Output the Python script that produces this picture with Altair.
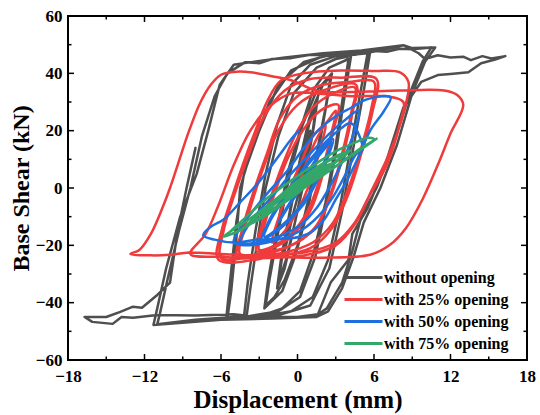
import altair as alt
import pandas as pd

series_names = ["without opening", "with 25% opening", "with 50% opening", "with 75% opening"]
series_colors = ["#4f4f4f", "#ef3b3b", "#1e6fdf", "#33a66a"]

gray_pts = [
    (0, 0), (0.5, 10), (1, 20), (0.7, 12), (0.2, 0), (-0.4, -10), (-1, -22), (-0.8, -14), (-0.3, -2), (0.3, 10),
    (0.9, 22), (1.5, 30), (1.2, 20), (0.6, 5), (-0.2, -12), (-0.9, -25), (-1.5, -33), (-1.2, -24), (-0.6, -8), (0.2, 10),
    (0.9, 24), (1.6, 32), (1.3, 22), (0.6, 4), (-0.3, -14), (-1.0, -28), (-1.6, -35), (-1.3, -25), (-0.6, -8),
    (0.3, 12), (1.2, 28), (2.0, 36), (2.6, 39), (2.2, 28), (1.5, 12), (0.8, -5), (0.0, -20), (-1.0, -32), (-1.8, -38), (-2.5, -41),
    (-2.2, -32), (-1.5, -15), (-0.6, 5), (0.4, 22), (1.5, 34), (2.7, 40), (2.3, 30), (1.6, 12), (0.8, -8), (-0.2, -24),
    (-1.2, -36), (-2.6, -42), (-2.3, -32), (-1.6, -14), (-0.8, 5),
    (0.2, 20), (1.2, 34), (2.5, 42), (4.0, 45), (3.6, 33), (3.0, 15), (2.2, -5), (1.3, -22), (0.2, -36), (-1.2, -42),
    (-2.5, -44), (-4.0, -45), (-3.7, -35), (-3.2, -20), (-2.5, 0), (-1.5, 18), (-0.3, 33), (1.5, 42), (3.0, 45), (4.2, 46),
    (3.8, 35), (3.1, 15), (2.3, -5), (1.4, -24), (0.2, -38), (-1.5, -43), (-4.2, -45), (-3.9, -33), (-3.3, -15), (-2.5, 5),
    (-1.6, 22), (-0.5, 36), (1.0, 43), (3.0, 46), (5.5, 47), (5.0, 35), (4.2, 15), (3.4, -5), (2.4, -25), (1.2, -38),
    (-0.5, -43), (-3.0, -45), (-5.5, -45.5), (-5.2, -36), (-4.8, -18), (-4.5, 0), (-3.5, 15), (-2.2, 30), (-0.5, 41), (2.0, 46),
    (5.7, 47.5), (5.2, 34), (4.3, 12), (3.5, -8), (2.5, -28), (1.0, -41), (-2.0, -45), (-5.6, -46), (-5.3, -33), (-4.8, -12),
    (-4.2, 5), (-3.0, 20), (-1.5, 36), (0.5, 44), (2.0, 45.8), (3.0, 46.8), (4.5, 46.5), (6.0, 47.8), (7.0, 47.5), (8.0, 48.6),
    (9.0, 48.4), (10.5, 49),
    (9.8, 44), (8.8, 33), (7.5, 15), (6.2, 0), (5.0, -10), (4.3, -22), (3.5, -33), (2.3, -42), (1.3, -45), (-2.0, -45),
    (-5.0, -45), (-8.0, -46), (-11.0, -47.5), (-10.8, -44), (-10.2, -32), (-9.3, -15), (-8.4, 0), (-7.5, 18), (-6.5, 32), (-5.5, 40),
    (-4.1, 43.9), (-3.0, 43.5), (-2.0, 45), (-0.5, 45.3), (1.0, 46.5), (2.5, 46.2), (4.0, 47.5), (5.5, 47.2), (7.0, 48.5), (8.3, 49.8),
    (9.0, 48.8), (10.8, 49),
    (10.0, 44), (9.0, 33), (7.8, 15), (6.5, 0), (5.2, -12), (4.4, -24), (3.5, -35), (2.4, -43), (1.5, -45), (-2.0, -45.5),
    (-6.0, -46), (-11.3, -47.8), (-11.0, -42), (-10.3, -28), (-9.2, -10), (-7.9, 5), (-7.0, 20), (-6.1, 36), (-5.0, 43), (-3.5, 44),
    (-1.0, 45.5), (2.0, 47), (5.0, 48), (8.3, 49.8), (9.5, 47), (10.0, 45),
    (11.0, 46.3), (12.0, 45.5), (13.0, 45.8), (13.6, 44.6), (14.5, 46), (15.2, 45.2), (16.3, 46), (15.5, 44.8), (14.4, 43.5), (13.4, 40.4),
    (12.0, 39.8), (11.0, 39.4), (9.7, 37), (8.3, 28), (6.8, 7), (5.5, -7), (4.3, -16), (4.0, -25), (2.6, -33), (1.6, -44),
    (0.0, -45), (-3.0, -45), (-5.0, -44), (-8.0, -44.5), (-11.0, -44.3), (-12.9, -45.3), (-13.8, -45), (-14.5, -47.4), (-16.1, -46.7), (-16.7, -45),
    (-15.0, -45), (-13.9, -43.2), (-12.9, -41.4), (-12.2, -41.8), (-11.0, -37.3), (-10.0, -33), (-9.4, -15), (-8.7, 0), (-8.0, 14),
]

red_pts = [
    (0, 0), (0.8, 10), (1.6, 18), (2.2, 22), (1.8, 14), (1, 2), (0, -8), (-1, -15), (-2, -19), (-1.6, -12),
    (-0.8, -2), (0.2, 8), (1.2, 18), (2.3, 23),
    (3, 27), (2.6, 18), (1.8, 4), (0.8, -8), (-0.5, -16), (-1.8, -20), (-3, -21.5), (-2.6, -13), (-1.8, -2), (-0.8, 10),
    (0.4, 20), (1.8, 27), (3.2, 29), (2.8, 20), (2, 5), (1, -8), (-0.5, -17), (-2, -21), (-3.2, -22), (-2.8, -13),
    (-2, -2), (-1, 10),
    (0, 20), (1.2, 28), (2.8, 33), (4.5, 35), (4.2, 26), (3.5, 12), (2.6, -2), (1.5, -13), (0, -19), (-2, -22),
    (-4.5, -23), (-4.2, -15), (-3.5, -4), (-2.6, 8), (-1.5, 20), (0, 29), (2, 34), (4.6, 36), (4.3, 26), (3.6, 12),
    (2.6, -3), (1.4, -14), (-0.5, -20), (-2.5, -23), (-4.7, -24), (-4.3, -14), (-3.5, -2),
    (-2.4, 12), (-1.4, 24), (0, 32), (2, 36), (4, 37), (6, 37), (5.8, 28), (5, 14), (4, 0), (2.8, -12),
    (1.2, -19), (-1, -22.5), (-3.5, -24), (-6, -24.5), (-5.8, -15), (-5, -3), (-3.8, 12), (-2.6, 25), (-1, 34), (1, 38),
    (3.5, 38.5), (6.2, 38), (5.9, 27), (5, 12), (4, -2), (2.7, -14), (1, -21), (-2, -24), (-6.2, -25), (-5.9, -14),
    (-5.2, -4), (-4.3, 8), (-3.3, 20), (-2.4, 30), (-1.3, 37.5), (0.5, 40), (3.4, 41), (6, 40.8), (8, 40.4), (8.7, 37),
    (8.3, 26), (7.2, 12), (5.8, -1), (4.6, -12), (3, -20), (0.5, -23.5), (-3, -24.5), (-6, -24), (-8.4, -23),
    (-7.2, -16), (-6.2, -6), (-5, 8), (-3.7, 20), (-2.3, 28), (-0.5, 33), (1.5, 33), (4.2, 32), (7, 32), (8.3, 30),
    (8, 22), (7, 8), (5.6, -3), (4.5, -12), (3, -19), (0.5, -22.5), (-3, -23.5), (-6, -23), (-8.5, -22.5),
    (-10, -23.3), (-11.5, -23.5), (-13.1, -23), (-12.4, -21.6), (-11.5, -16), (-10.6, -7), (-10, 0), (-9.4, 8), (-8.5, 20), (-7.6, 30),
    (-6.8, 36), (-6, 39.5), (-5, 40.5), (-3.7, 40.4), (-2, 39), (-0.5, 37.6), (1.6, 33.8), (4.2, 33.5), (8, 34), (11.5, 34),
    (12.5, 32.5), (13, 29), (12, 19), (11, 8), (9.8, -4), (8.5, -14), (7.2, -20), (5.7, -23.3), (2, -24.3), (-2, -24),
    (-5, -23.7),
]

blue_pts = [
    (0, 0), (0.6, 4), (1.2, 8), (1.5, 10), (1, 5), (0.3, 0), (-0.5, -5), (-1.2, -10), (-1.5, -12), (-1, -8),
    (-0.3, -3), (0.5, 3),
    (1.3, 9), (2, 13), (2.6, 16), (2.2, 10), (1.5, 3), (0.6, -4), (-0.5, -10), (-1.5, -14), (-2.6, -17), (-2.2, -12),
    (-1.4, -6), (-0.4, 1), (0.8, 8), (1.8, 13), (2.8, 17), (2.4, 11), (1.6, 3), (0.6, -5), (-0.6, -11), (-1.6, -15),
    (-2.8, -18), (-2.3, -12), (-1.4, -5), (-0.3, 2),
    (1, 10), (2.2, 16), (3.2, 20), (4.2, 22.6), (5.1, 13.2), (4.6, 11.8), (3.8, 5), (2.8, -3), (1.6, -10), (0.2, -15),
    (-1.5, -18), (-3, -19.5), (-4.5, -19.6), (-4, -14), (-3, -8), (-1.8, -2), (-0.5, 5), (1, 12), (2.5, 19), (3.8, 24),
    (4.8, 27), (4.4, 19), (3.6, 10), (2.6, 1), (1.5, -7), (0.2, -13), (-1.5, -17), (-3.2, -19), (-5, -19.2), (-4.5, -14),
    (-3.5, -8), (-2.2, -1), (-0.8, 6), (0.5, 14), (1.6, 20), (3, 25), (4.2, 28), (5.5, 31), (7.3, 31.7), (6.8, 27),
    (5.7, 20), (4.8, 11), (3.9, 2.8), (3, -4), (2.1, -11), (1.2, -15), (0.2, -17), (-1.5, -17.8), (-3.1, -18), (-5, -19),
    (-6.5, -18), (-7.4, -16.5), (-6.8, -13.5), (-5.8, -11), (-4.5, -5), (-3.1, 1.7), (-1.5, 11), (-0.5, 17), (0.1, 20),
]

green_pts = [
    (0, 0), (0.5, 1.8), (1, 3.5), (0.5, 2), (0, 0.3), (-0.5, -1.8), (-1, -3.6), (-0.5, -2.2), (0, -0.5), (0.8, 2.2),
    (1.5, 4.5), (2.5, 8), (2, 7), (1, 4), (0, 1), (-1, -2.8), (-2, -6.5), (-2.6, -9), (-2, -7.5), (-1, -4.5),
    (0, -1.5), (1, 2), (2, 5.5), (2.7, 8.5), (2, 7.3), (1, 4.3), (0, 1.3), (-1, -2.5), (-2, -6.2), (-2.8, -9.5),
    (-2.1, -7.8), (-1, -4.8), (0, -1.5), (1, 2), (2, 5.8), (3, 9.3), (4, 12.5), (3.2, 11), (2, 8.3), (1, 5.2),
    (0, 2), (-1, -1.8), (-2, -5.5), (-3, -9.2), (-4, -13), (-3.2, -11.5), (-2, -8.2), (-1, -5), (0, -1.8), (1.5, 3.5),
    (3, 9), (4.2, 13.2), (3.2, 11.5), (2, 8.6), (0, 2.5), (-2, -5), (-4, -11.5), (-5.8, -17), (-4.8, -15.3), (-3.5, -12),
    (-2, -7.8), (0, -1.5), (2, 4.5), (4, 10.8), (5, 14), (6, 17), (5.5, 17.5), (4.5, 15.8), (3, 12.8), (1, 7.2),
    (-1, 1), (-2.5, -4), (-4, -10), (-5.5, -16.5), (-4.6, -15), (-3, -10.5), (-1, -4.5), (1, 1.5), (3, 7.5), (5, 13.5),
    (6.2, 17.2),
]

x_major = [-18, -12, -6, 0, 6, 12, 18]
x_minor = [-15, -9, -3, 3, 9, 15]
y_major = [-60, -40, -20, 0, 20, 40, 60]
y_minor = [-50, -30, -10, 10, 30, 50]

W, H = 459, 344
FONT = "Liberation Serif"


def frame(pts, name):
    return pd.DataFrame({
        "d": [p[0] for p in pts],
        "v": [p[1] for p in pts],
        "i": list(range(len(pts))),
        "series": name,
    })


xs = alt.Scale(domain=[-18, 18], nice=False, zero=False)
ys = alt.Scale(domain=[-60, 60], nice=False, zero=False)

xaxis = alt.Axis(values=x_major, title="Displacement (mm)", grid=False, ticks=False, tickSize=0,
                 domain=False, labelPadding=8, labelFlush=False, labelOverlap=False,
                 labelFont=FONT, labelFontSize=17, labelFontWeight="bold", labelColor="black",
                 titleFont=FONT, titleFontSize=25, titleFontWeight="bold", titleColor="black",
                 titlePadding=3, format="d")
yaxis = alt.Axis(values=y_major, title="Base Shear (kN)", grid=False, ticks=False, tickSize=0,
                 domain=False, labelPadding=6, labelFlush=False, labelOverlap=False,
                 labelFont=FONT, labelFontSize=17, labelFontWeight="bold", labelColor="black",
                 titleFont=FONT, titleFontSize=24, titleFontWeight="bold", titleColor="black",
                 titlePadding=2, format="d")

# wide horizontal stroke symbol: path scaled by sqrt(size)/2 -> 5 * 7.6 = 38 px long
color = alt.Color("series:N",
                  scale=alt.Scale(domain=series_names, range=series_colors),
                  legend=alt.Legend(title=None, orient="none", legendX=286, legendY=252,
                                    symbolType="M-2.5,0H2.5", symbolStrokeWidth=3, symbolSize=231,
                                    symbolFillColor="transparent",
                                    labelFont=FONT, labelFontSize=16, labelFontWeight="bold",
                                    labelColor="black", labelOffset=11, rowPadding=4, padding=0,
                                    labelLimit=0))


def line_layer(pts, name, interp):
    return alt.Chart(frame(pts, name)).mark_line(
        strokeWidth=2.5, interpolate=interp, strokeJoin="round", strokeCap="round"
    ).encode(
        x=alt.X("d:Q", scale=xs, axis=xaxis),
        y=alt.Y("v:Q", scale=ys, axis=yaxis),
        color=color,
        order=alt.Order("i:Q"),
    )


def xticks(vals, y0, y1):
    return alt.Chart(pd.DataFrame({"d": vals})).mark_rule(color="black", strokeWidth=1.5).encode(
        x=alt.X("d:Q", scale=xs, axis=xaxis), y=alt.value(y0), y2=alt.value(y1))


def yticks(vals, x0, x1):
    return alt.Chart(pd.DataFrame({"v": vals})).mark_rule(color="black", strokeWidth=1.5).encode(
        y=alt.Y("v:Q", scale=ys, axis=yaxis), x=alt.value(x0), x2=alt.value(x1))


layers = [
    line_layer(gray_pts, series_names[0], "linear"),
    line_layer(red_pts, series_names[1], "catmull-rom"),
    line_layer(blue_pts, series_names[2], "catmull-rom"),
    line_layer(green_pts, series_names[3], "catmull-rom"),
    xticks(x_major, H, H - 6), xticks(x_minor, H, H - 3.5),
    xticks(x_major, 0, 6), xticks(x_minor, 0, 3.5),
    yticks(y_major, 0, 6), yticks(y_minor, 0, 3.5),
    yticks(y_major, W, W - 6), yticks(y_minor, W, W - 3.5),
]

chart = alt.layer(*layers).properties(
    width=W, height=H,
    autosize=alt.AutoSizeParams(type="none"),
    padding={"left": 68, "top": 16, "right": 13, "bottom": 55},
    background="white",
).configure_view(stroke="black", strokeWidth=2)

chart.save("out.html", embed_options={"renderer": "svg", "actions": False})
